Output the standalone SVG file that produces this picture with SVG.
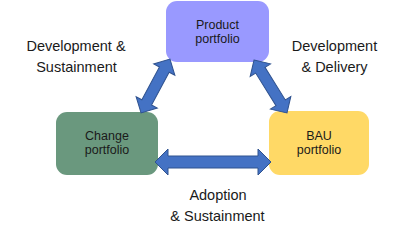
<svg xmlns="http://www.w3.org/2000/svg" width="397" height="234" viewBox="0 0 397 234">
<style>
.box{stroke:none}
.lbl{font-family:"Liberation Sans",Arial,sans-serif;font-size:12.5px;fill:#1a1a1a;text-anchor:middle}
.cap{font-family:"Liberation Sans",Arial,sans-serif;font-size:14.5px;fill:#1a1a1a;text-anchor:middle}
.arr{fill:#4472C4;stroke:#2F528F;stroke-width:1;stroke-linejoin:miter}
</style>
<rect width="397" height="234" fill="#ffffff"/>
<g id="product">
<rect class="box" x="166" y="1" width="103" height="61" rx="11" fill="#9999FF"/>
<text class="lbl" x="217.5" y="29">Product</text>
<text class="lbl" x="217.5" y="43">portfolio</text>
</g>
<g id="change">
<rect class="box" x="56" y="112" width="102" height="63" rx="11" fill="#6A987E"/>
<text class="lbl" x="107" y="140">Change</text>
<text class="lbl" x="107" y="154">portfolio</text>
</g>
<g id="bau">
<rect class="box" x="269" y="111" width="100" height="64" rx="11" fill="#FFD966"/>
<text class="lbl" x="319" y="140">BAU</text>
<text class="lbl" x="319" y="154">portfolio</text>
</g>
<g id="connectors">
<polygon class="arr" transform="translate(213,162)" points="-58,0 -45,-13 -45,-6 45,-6 45,-13 58,0 45,13 45,6 -45,6 -45,13"/>
<polygon class="arr" transform="translate(155.5,86) rotate(-61.8)" points="-30.6,0 -18.6,-12 -18.6,-5.5 18.6,-5.5 18.6,-12 30.6,0 18.6,12 18.6,5.5 -18.6,5.5 -18.6,12"/>
<polygon class="arr" transform="translate(270.5,86.5) rotate(58.1)" points="-31.2,0 -19.2,-12 -19.2,-5.5 19.2,-5.5 19.2,-12 31.2,0 19.2,12 19.2,5.5 -19.2,5.5 -19.2,12"/>
</g>
<g id="labels">
<text class="cap" x="76" y="51">Development &amp;</text>
<text class="cap" x="76.5" y="72">Sustainment</text>
<text class="cap" x="334.5" y="51">Development</text>
<text class="cap" x="334.5" y="72">&amp; Delivery</text>
<text class="cap" x="218" y="200">Adoption</text>
<text class="cap" x="217.5" y="221">&amp; Sustainment</text>
</g>
</svg>
